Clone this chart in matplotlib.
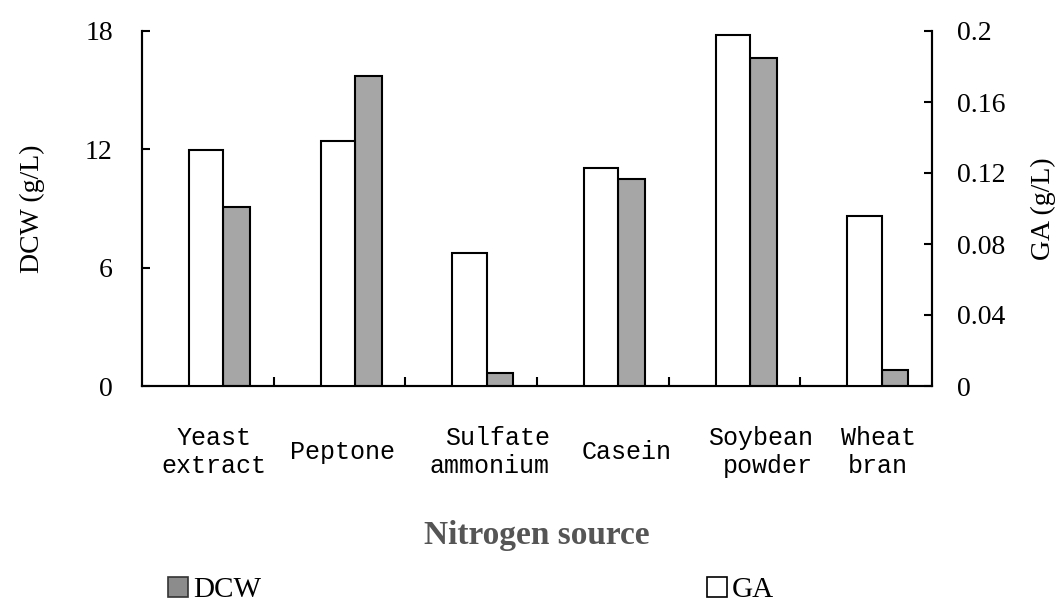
import numpy as np
import matplotlib.pyplot as plt
from matplotlib.patches import Patch
from matplotlib.transforms import blended_transform_factory, ScaledTranslation

SOURCES = ["Yeast\nextract", "Peptone", "Sulfate\nammonium", "Casein", "Soybean\npowder", "Wheat\nbran"]
DCW = [9.06, 15.72, 0.68, 10.5, 16.62, 0.81]          # g/L, left axis
GA = [0.133, 0.138, 0.075, 0.123, 0.198, 0.096]        # g/L, right axis

DCW_TICKS = [0, 6, 12, 18]
GA_TICKS = [0, 0.04, 0.08, 0.12, 0.16, 0.2]
GA_TICKLABELS = ["0", "0.04", "0.08", "0.12", "0.16", "0.2"]

# label nudges (px) and line alignment for the category names
LABEL_DX = [6, 2.5, 18.5, 24, 26, 12]
LABEL_ALIGN = ["center", "center", "right", "center", "right", "center"]

SERIF = "Liberation Serif"
MONO = "Liberation Mono"
LW = 1.5

fig = plt.figure(figsize=(10.61, 6.06), dpi=100)
ax = fig.add_axes([142/1061, 1-386/606, 790/1061, 355/606])
ax2 = ax.twinx()

x = np.arange(len(SOURCES))
w_ga, w_dcw = 0.26, 0.203
left_ga = x - 0.142

ax.bar(left_ga + w_ga, DCW, width=w_dcw, align="edge", color="#a6a6a6",
       edgecolor="black", linewidth=LW, zorder=3)
ax2.bar(left_ga, GA, width=w_ga, align="edge", color="white",
        edgecolor="black", linewidth=LW, zorder=3)

ax.set_xlim(-0.5, len(SOURCES) - 0.5)
ax.set_ylim(0, 18)
ax2.set_ylim(0, 0.2)

for a in (ax, ax2):
    a.spines["top"].set_visible(False)
    for s in a.spines.values():
        s.set_linewidth(LW)

ax.set_yticks(DCW_TICKS)
ax.set_yticklabels([str(t) for t in DCW_TICKS], fontsize=20, family=SERIF)
ax.tick_params(axis="y", direction="in", length=6, width=LW, pad=21)
ax2.set_yticks(GA_TICKS)
ax2.set_yticklabels(GA_TICKLABELS, fontsize=20, family=SERIF)
ax2.tick_params(axis="y", direction="in", length=6, width=LW, pad=18)

# small ticks between groups, no labels on the axis itself
ax.set_xticks([])
ax.set_xticks(x[:-1] + 0.5, minor=True)
ax.tick_params(axis="x", which="minor", direction="in", length=6.5, width=LW)

trans = blended_transform_factory(ax.transData, ax.transAxes)
for i, name in enumerate(SOURCES):
    off = ScaledTranslation(LABEL_DX[i] / 100, 0, fig.dpi_scale_trans)
    ax.text(x[i], -0.186, name, transform=trans + off, ha="center", va="center",
            multialignment=LABEL_ALIGN[i], family=MONO, fontsize=18, linespacing=1.2)

ax.set_ylabel("DCW (g/L)", fontsize=20, family=SERIF)
ax.yaxis.set_label_coords(-0.123, 0.5)
ax2.set_ylabel("GA (g/L)", fontsize=20, family=SERIF, rotation=90)
ax2.yaxis.set_label_coords(1.1255, 0.5)

ax.text(0.5, -0.42, "Nitrogen source", transform=ax.transAxes, ha="center", va="center",
        fontsize=24, fontweight="bold", family=SERIF, color="#555555")

handles = [Patch(facecolor="#8c8c8c", edgecolor="#333333", linewidth=1.2),
           Patch(facecolor="white", edgecolor="black", linewidth=1.2)]
fig.legend(handles, ["DCW", "GA"], loc="center left", bbox_to_anchor=(168/1061, 1-590/606),
           ncol=2, frameon=False, handlelength=0.7, handleheight=0.7, handletextpad=0.15,
           columnspacing=15.3, borderpad=0, borderaxespad=0,
           prop={"family": SERIF, "size": 21})

fig.savefig("out.png", dpi=100)
